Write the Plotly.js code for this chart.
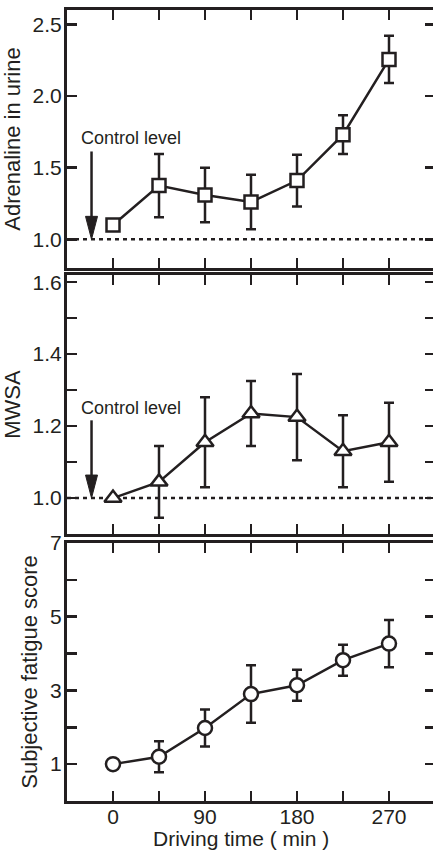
<!DOCTYPE html>
<html>
<head>
<meta charset="utf-8">
<script src="https://cdn.plot.ly/plotly-3.0.1.min.js"></script>
<style>html,body{margin:0;padding:0;background:#fff;overflow:hidden;}</style>
</head>
<body>
<div id="chart"></div>
<script>
// ---- data ----
var drivingTime = [0, 45, 90, 135, 180, 225, 270];

var adrenaline = [1.10, 1.375, 1.31, 1.26, 1.41, 1.73, 2.255];
var adrenalineErr = [0, 0.22, 0.19, 0.19, 0.18, 0.135, 0.165];

var mwsa = [1.0, 1.045, 1.155, 1.235, 1.225, 1.13, 1.155];
var mwsaErr = [0, 0.10, 0.125, 0.09, 0.12, 0.10, 0.11];

var fatigue = [1.0, 1.2, 1.98, 2.9, 3.14, 3.82, 4.27];
var fatigueErr = [0, 0.42, 0.5, 0.78, 0.42, 0.42, 0.64];

var xTickVals = [0, 45, 90, 135, 180, 225, 270];
var xTickText = ['0', '', '90', '', '180', '', '270'];
var y1TickVals = [1.0, 1.5, 2.0, 2.5];
var y1TickText = ['1.0', '1.5', '2.0', '2.5'];
var y2TickVals = [1.0, 1.1, 1.2, 1.3, 1.4, 1.5, 1.6];
var y2TickText = ['1.0', '', '1.2', '', '1.4', '', '1.6'];
var y3TickVals = [1, 2, 3, 4, 5, 6, 7];
var y3TickText = ['1', '', '3', '', '5', '', '7'];

// ---- style ----
var INK = '#231f20';
var FONT = 'Liberation Sans, Arial, Helvetica, sans-serif';

function series(y, err, symbol, size, xa, ya) {
  return {
    x: drivingTime, y: y, xaxis: xa, yaxis: ya,
    type: 'scatter', mode: 'lines+markers',
    line: {color: INK, width: 2.5},
    marker: {symbol: symbol, size: size, color: '#ffffff', line: {color: INK, width: 2.5}},
    error_y: {type: 'data', array: err, visible: true, color: INK, thickness: 2.5, width: 5},
    showlegend: false, hoverinfo: 'skip'
  };
}

var traces = [
  series(adrenaline, adrenalineErr, 'square', 13, 'x', 'y'),
  series(mwsa, mwsaErr, 'triangle-up', 15, 'x2', 'y2'),
  series(fatigue, fatigueErr, 'circle', 14, 'x3', 'y3')
];

function xAxis(anchor, showLabels) {
  return {
    anchor: anchor, range: [-45, 315], domain: [0, 1],
    tickvals: xTickVals, ticktext: showLabels ? xTickText : xTickVals.map(function(){return '';}),
    ticks: 'inside', ticklen: 10, tickwidth: 2.5, tickcolor: INK,
    showline: true, linecolor: INK, linewidth: 3, mirror: 'ticks',
    showgrid: false, zeroline: false, fixedrange: true,
    ticklabelstandoff: -5,
    tickfont: {family: FONT, size: 21, color: INK}
  };
}
function yAxis(anchor, domain, range, vals, text, title) {
  return {
    anchor: anchor, domain: domain, range: range,
    tickvals: vals, ticktext: text,
    ticks: 'inside', ticklen: 10, tickwidth: 2.5, tickcolor: INK,
    showline: true, linecolor: INK, linewidth: 3, mirror: 'ticks',
    showgrid: false, zeroline: false, fixedrange: true,
    ticklabelstandoff: -2,
    tickfont: {family: FONT, size: 21, color: INK},
    title: {text: title, font: {family: FONT, size: 22, color: INK}, standoff: 7}
  };
}

var dotted = {color: INK, width: 2.5, dash: '4px,4px'};
var layout = {
  width: 436, height: 853,
  margin: {l: 67, r: 1, t: 10, b: 52},
  paper_bgcolor: '#ffffff', plot_bgcolor: '#ffffff',
  font: {family: FONT, color: INK},
  xaxis: xAxis('y', false),
  xaxis2: xAxis('y2', false),
  xaxis3: xAxis('y3', true),
  yaxis: yAxis('x', [0.6738, 1], [0.8, 2.6], y1TickVals, y1TickText, 'Adrenaline in urine'),
  yaxis2: yAxis('x2', [0.3375, 0.665], [0.9, 1.62], y2TickVals, y2TickText, 'MWSA'),
  yaxis3: yAxis('x3', [0, 0.3262], [0, 7], y3TickVals, y3TickText, 'Subjective fatigue score'),
  shapes: [
    {type: 'line', xref: 'x', yref: 'y', x0: -45, x1: 315, y0: 1.0, y1: 1.0, line: dotted, layer: 'below'},
    {type: 'line', xref: 'x2', yref: 'y2', x0: -45, x1: 315, y0: 1.0, y1: 1.0, line: dotted, layer: 'below'},
    {type: 'line', xref: 'x', yref: 'y', x0: -21, x1: -21, y0: 1.613, y1: 1.1, line: {color: INK, width: 2.5}},
    {type: 'line', xref: 'x2', yref: 'y2', x0: -21, x1: -21, y0: 1.216, y1: 1.03, line: {color: INK, width: 2.5}},
    {type: 'path', xref: 'x', yref: 'y', xsizemode: 'pixel', ysizemode: 'pixel', xanchor: -21, yanchor: 1.0,
     path: 'M-6,23 L6,23 L0,0 Z', fillcolor: INK, line: {color: INK, width: 1}},
    {type: 'path', xref: 'x2', yref: 'y2', xsizemode: 'pixel', ysizemode: 'pixel', xanchor: -21, yanchor: 1.0,
     path: 'M-6,23 L6,23 L0,0 Z', fillcolor: INK, line: {color: INK, width: 1}}
  ],
  annotations: [
    {xref: 'x', yref: 'y', x: 17.8, y: 1.705, text: 'Control level', showarrow: false,
     font: {family: FONT, size: 18, color: INK}, xanchor: 'center', yanchor: 'middle'},
    {xref: 'x2', yref: 'y2', x: 17.8, y: 1.25, text: 'Control level', showarrow: false,
     font: {family: FONT, size: 18, color: INK}, xanchor: 'center', yanchor: 'middle'},
    {xref: 'paper', yref: 'paper', x: 0.474, y: -0.048, text: 'Driving time ( min )', showarrow: false,
     font: {family: FONT, size: 21, color: INK}, xanchor: 'center', yanchor: 'middle', borderpad: 0}
  ]
};

Plotly.newPlot('chart', traces, layout, {displayModeBar: false, staticPlot: true});
</script>
</body>
</html>
